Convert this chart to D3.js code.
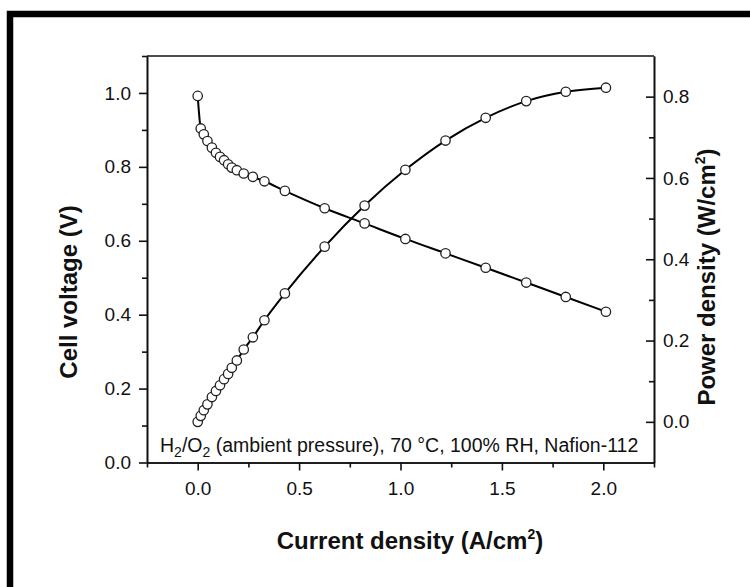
<!DOCTYPE html>
<html>
<head>
<meta charset="utf-8">
<script src="https://cdn.jsdelivr.net/npm/d3@7"></script>
<style>
    body { margin: 0; background: #fff; }
    svg { display: block; font-family: "Liberation Sans", Arial, sans-serif; }
    .axis path, .axis line { stroke: #111; stroke-width: 1.6; }
    .axis text { font-size: 19px; fill: #111; }
    .title { font-size: 24px; font-weight: bold; fill: #111; }
</style>
</head>
<body>
<svg id="chart" width="750" height="587"></svg>
<script>
// current density (A/cm2)
var current = [0, 0.015, 0.03, 0.048, 0.07, 0.09, 0.11, 0.13, 0.15, 0.168, 0.193, 0.227, 0.272, 0.329, 0.43,
    0.626, 0.823, 1.024, 1.222, 1.42, 1.62, 1.815, 2.013];
// cell voltage (V)
var voltage = [0.992, 0.904, 0.888, 0.870, 0.852, 0.838, 0.827, 0.818, 0.807, 0.798, 0.791, 0.782, 0.773, 0.761, 0.735,
    0.688, 0.647, 0.605, 0.566, 0.527, 0.487, 0.448, 0.408];
// power density (W/cm2)
var power = [0.0, 0.0147, 0.0287, 0.043, 0.061, 0.076, 0.090, 0.105, 0.118, 0.133, 0.151, 0.178, 0.208, 0.250, 0.316,
    0.431, 0.532, 0.620, 0.692, 0.748, 0.789, 0.812, 0.822];

var xTicks = [0, 0.5, 1.0, 1.5, 2.0];
var xMinor = [-0.25, 0.25, 0.75, 1.25, 1.75, 2.25];
var yLeftTicks = [0, 0.2, 0.4, 0.6, 0.8, 1.0];
var yLeftMinor = [0.1, 0.3, 0.5, 0.7, 0.9, 1.1];
var yRightTicks = [0, 0.2, 0.4, 0.6, 0.8];
var yRightMinor = [0.1, 0.3, 0.5, 0.7];

var svg = d3.select('#chart');
var plotLeft = 147, plotRight = 654, plotTop = 56, plotBottom = 462.5;

// outer black frame (cut off on the right and bottom)
svg.append('rect')
    .attr('x', 10).attr('y', 14)
    .attr('width', 800).attr('height', 700)
    .style('fill', 'none')
    .style('stroke', '#000')
    .style('stroke-width', 6.5);

var x = d3.scaleLinear().domain([-0.25, 2.25]).range([plotLeft, plotRight]);
var yL = d3.scaleLinear().domain([0, 1.1]).range([plotBottom, plotTop]);
var yR = d3.scaleLinear().domain([-0.1, 0.9]).range([plotBottom, plotTop]);
var fmt = d3.format('.1f');

function addAxis(axis, tx, ty) {
    return svg.append('g')
        .attr('class', 'axis')
        .attr('transform', 'translate(' + tx + ',' + ty + ')')
        .call(axis);
}

addAxis(d3.axisBottom(x).tickValues(xTicks).tickFormat(fmt).tickSize(8).tickSizeOuter(0).tickPadding(11), 0, plotBottom);
addAxis(d3.axisBottom(x).tickValues(xMinor).tickFormat('').tickSize(5).tickSizeOuter(0), 0, plotBottom);
addAxis(d3.axisLeft(yL).tickValues(yLeftTicks).tickFormat(fmt).tickSize(8).tickSizeOuter(0).tickPadding(8), plotLeft, 0);
addAxis(d3.axisLeft(yL).tickValues(yLeftMinor).tickFormat('').tickSize(5).tickSizeOuter(0), plotLeft, 0);
addAxis(d3.axisRight(yR).tickValues(yRightTicks).tickFormat(fmt).tickSize(-8).tickSizeOuter(0).tickPadding(9), plotRight, 0);
addAxis(d3.axisRight(yR).tickValues(yRightMinor).tickFormat('').tickSize(-5).tickSizeOuter(0), plotRight, 0);

// top frame line
svg.append('line')
    .attr('x1', plotLeft).attr('x2', plotRight)
    .attr('y1', plotTop).attr('y2', plotTop)
    .style('stroke', '#111')
    .style('stroke-width', 1.6);

function drawSeries(values, y) {
    var pts = current.map(function (c, i) {
        return {x: c, y: values[i]};
    });
    var line = d3.line()
        .x(function (d) { return x(d.x); })
        .y(function (d) { return y(d.y); })
        .curve(d3.curveMonotoneX);

    svg.append('path')
        .datum(pts)
        .attr('d', line)
        .style('fill', 'none')
        .style('stroke', '#000')
        .style('stroke-width', 2);

    svg.append('g').selectAll('circle')
        .data(pts)
        .enter().append('circle')
        .attr('cx', function (d) { return x(d.x); })
        .attr('cy', function (d) { return y(d.y); })
        .attr('r', 4.7)
        .style('fill', '#fff')
        .style('stroke', '#222')
        .style('stroke-width', 1.3);
}

drawSeries(voltage, yL);
drawSeries(power, yR);

// axis titles
var t = svg.append('text').attr('class', 'title')
    .attr('x', 410).attr('y', 549)
    .attr('text-anchor', 'middle');
t.append('tspan').text('Current density (A/cm');
t.append('tspan').attr('dy', -10).style('font-size', '14px').text('2');
t.append('tspan').attr('dy', 10).text(')');

svg.append('text').attr('class', 'title')
    .attr('transform', 'translate(77,292) rotate(-90)')
    .attr('text-anchor', 'middle')
    .text('Cell voltage (V)');

var r = svg.append('text').attr('class', 'title')
    .attr('transform', 'translate(715,277) rotate(-90)')
    .attr('text-anchor', 'middle');
r.append('tspan').text('Power density (W/cm');
r.append('tspan').attr('dy', -10).style('font-size', '14px').text('2');
r.append('tspan').attr('dy', 10).text(')');

// condition note
var note = svg.append('text')
    .attr('x', 160).attr('y', 452)
    .style('font-size', '19.5px')
    .style('fill', '#111');
note.append('tspan').text('H');
note.append('tspan').attr('dy', 5).style('font-size', '14px').text('2');
note.append('tspan').attr('dy', -5).text('/O');
note.append('tspan').attr('dy', 5).style('font-size', '14px').text('2');
note.append('tspan').attr('dy', -5).text(' (ambient pressure), 70 \u00B0C, 100% RH, Nafion-112');
</script>
</body>
</html>
